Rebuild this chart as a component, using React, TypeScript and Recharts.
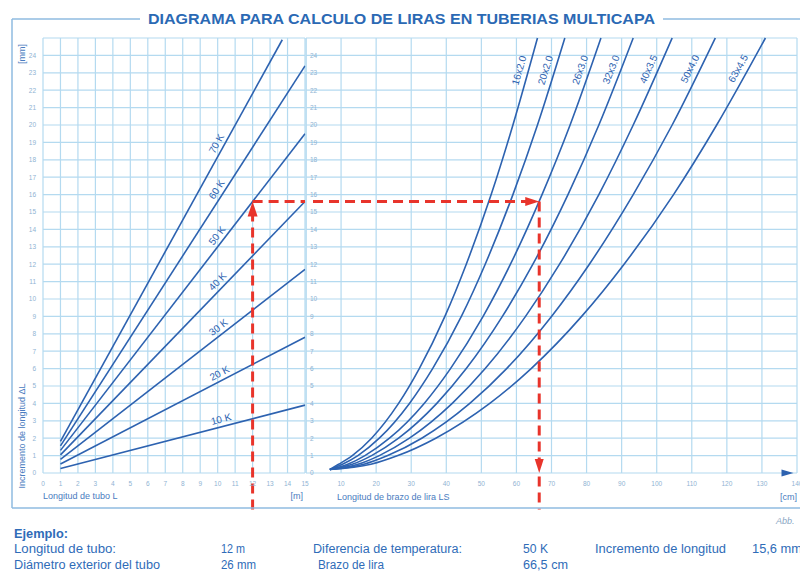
import { LineChart, Line, XAxis, YAxis, CartesianGrid, ReferenceLine, ReferenceDot } from "recharts";

// axis ticks
const tubeLengthTicks = [0, 1, 2, 3, 4, 5, 6, 7, 8, 9, 10, 11, 12, 13, 14, 15];
const lyraArmTicks = [10, 20, 30, 40, 50, 60, 70, 80, 90, 100, 110, 120, 130, 140];
const expansionTicks = [0, 1, 2, 3, 4, 5, 6, 7, 8, 9, 10, 11, 12, 13, 14, 15, 16, 17, 18, 19, 20, 21, 22, 23, 24];

// left panel: expansion vs tube length, per temperature difference
const line10K = [{ L: 1, dl: 0.26 }, { L: 15, dl: 3.9 }];
const line20K = [{ L: 1, dl: 0.52 }, { L: 15, dl: 7.8 }];
const line30K = [{ L: 1, dl: 0.78 }, { L: 15, dl: 11.7 }];
const line40K = [{ L: 1, dl: 1.04 }, { L: 15, dl: 15.6 }];
const line50K = [{ L: 1, dl: 1.3 }, { L: 15, dl: 19.5 }];
const line60K = [{ L: 1, dl: 1.56 }, { L: 15, dl: 23.4 }];
const line70K = [{ L: 1, dl: 1.82 }, { L: 13.7, dl: 24.9 }];

const tempLines = [
  { name: "10 K", data: line10K },
  { name: "20 K", data: line20K },
  { name: "30 K", data: line30K },
  { name: "40 K", data: line40K },
  { name: "50 K", data: line50K },
  { name: "60 K", data: line60K },
  { name: "70 K", data: line70K },
];

// right panel: expansion vs lyra arm length, per pipe size
const pipe16 = [
  { ls: 6.8, dl: 0.2 }, { ls: 9.3, dl: 0.5 }, { ls: 13.2, dl: 1 }, { ls: 18.7, dl: 2 }, { ls: 26.4, dl: 4 },
  { ls: 32.3, dl: 6 }, { ls: 39.6, dl: 9 }, { ls: 45.7, dl: 12 }, { ls: 52.8, dl: 16 }, { ls: 59.0, dl: 20 }, { ls: 66.0, dl: 25 },
];
const pipe20 = [
  { ls: 6.8, dl: 0.2 }, { ls: 10.4, dl: 0.5 }, { ls: 14.8, dl: 1 }, { ls: 20.9, dl: 2 }, { ls: 29.5, dl: 4 },
  { ls: 36.1, dl: 6 }, { ls: 44.3, dl: 9 }, { ls: 51.1, dl: 12 }, { ls: 59.0, dl: 16 }, { ls: 66.0, dl: 20 }, { ls: 73.8, dl: 25 },
];
const pipe26 = [
  { ls: 6.8, dl: 0.2 }, { ls: 11.9, dl: 0.5 }, { ls: 16.8, dl: 1 }, { ls: 23.8, dl: 2 }, { ls: 33.7, dl: 4 },
  { ls: 41.2, dl: 6 }, { ls: 50.5, dl: 9 }, { ls: 58.3, dl: 12 }, { ls: 67.3, dl: 16 }, { ls: 75.3, dl: 20 }, { ls: 84.1, dl: 25 },
];
const pipe32 = [
  { ls: 6.8, dl: 0.2 }, { ls: 13.2, dl: 0.5 }, { ls: 18.7, dl: 1 }, { ls: 26.4, dl: 2 }, { ls: 37.3, dl: 4 },
  { ls: 45.7, dl: 6 }, { ls: 56.0, dl: 9 }, { ls: 64.7, dl: 12 }, { ls: 74.7, dl: 16 }, { ls: 83.5, dl: 20 }, { ls: 93.3, dl: 25 },
];
const pipe40 = [
  { ls: 6.8, dl: 0.2 }, { ls: 14.8, dl: 0.5 }, { ls: 20.9, dl: 1 }, { ls: 29.5, dl: 2 }, { ls: 41.7, dl: 4 },
  { ls: 51.1, dl: 6 }, { ls: 62.6, dl: 9 }, { ls: 72.3, dl: 12 }, { ls: 83.5, dl: 16 }, { ls: 93.3, dl: 20 }, { ls: 104.4, dl: 25 },
];
const pipe50 = [
  { ls: 6.8, dl: 0.2 }, { ls: 16.5, dl: 0.5 }, { ls: 23.3, dl: 1 }, { ls: 33.0, dl: 2 }, { ls: 46.7, dl: 4 },
  { ls: 57.2, dl: 6 }, { ls: 70.0, dl: 9 }, { ls: 80.8, dl: 12 }, { ls: 93.3, dl: 16 }, { ls: 104.4, dl: 20 }, { ls: 116.7, dl: 25 },
];
const pipe63 = [
  { ls: 6.8, dl: 0.2 }, { ls: 18.5, dl: 0.5 }, { ls: 26.2, dl: 1 }, { ls: 37.0, dl: 2 }, { ls: 52.4, dl: 4 },
  { ls: 64.2, dl: 6 }, { ls: 78.6, dl: 9 }, { ls: 90.7, dl: 12 }, { ls: 104.8, dl: 16 }, { ls: 117.1, dl: 20 }, { ls: 131.0, dl: 25 },
];

const pipeCurves = [
  { name: "16x2.0", data: pipe16 },
  { name: "20x2.0", data: pipe20 },
  { name: "26x3.0", data: pipe26 },
  { name: "32x3.0", data: pipe32 },
  { name: "40x3.5", data: pipe40 },
  { name: "50x4.0", data: pipe50 },
  { name: "63x4.5", data: pipe63 },
];

// worked example
const exampleLength = 12;
const exampleExpansion = 15.6;
const exampleArm = 66.5;

const BLUE = "#2d62b0";
const RED = "#e8342b";
const GRID = "#b4daf0";
const TICK = "#8fb3d3";
const TEXT = "#2f6cb8";

const PLOT_TOP = 38;
const PLOT_BOTTOM = 473;
const Y_MAX = 25;
const PX_Y = (PLOT_BOTTOM - PLOT_TOP) / Y_MAX;
const LEFT_X0 = 43;
const LEFT_X1 = 305;
const PX_L = (LEFT_X1 - LEFT_X0) / 15;
const RIGHT_X0 = 307;
const RIGHT_X1 = 797;
const PX_R = (RIGHT_X1 - RIGHT_X0) / 140;

const tickStyle = { fontSize: 6.5, fill: TICK, fontFamily: "Liberation Sans, Arial, sans-serif" };

const rotatedText = (label: string, angle: number, offset: number, size: number) => (props: any) => {
  const a = (angle * Math.PI) / 180;
  const x = props.cx - Math.sin(a) * offset;
  const y = props.cy - Math.cos(a) * offset;
  return (
    <text
      x={x}
      y={y}
      transform={`rotate(${-angle} ${x} ${y})`}
      textAnchor="middle"
      dominantBaseline="central"
      fontSize={size}
      fill={BLUE}
      fontFamily="Liberation Sans, Arial, sans-serif"
    >
      {label}
    </text>
  );
};

const arrow = (dir: "up" | "down" | "right", color: string, len: number, half: number) => (props: any) => {
  const { cx, cy } = props;
  let d = "";
  if (dir === "up") d = `M${cx} ${cy} L${cx - half} ${cy + len} L${cx + half} ${cy + len} Z`;
  if (dir === "down") d = `M${cx} ${cy} L${cx - half} ${cy - len} L${cx + half} ${cy - len} Z`;
  if (dir === "right") d = `M${cx} ${cy} L${cx - len} ${cy - half} L${cx - len} ${cy + half} Z`;
  return <path d={d} fill={color} />;
};

const dashProps = { stroke: RED, strokeWidth: 3, strokeDasharray: "10 6", ifOverflow: "visible" as const };

const T = (p: { x: number; y: number; w?: number; size?: number; bold?: boolean; italic?: boolean; fill?: string; children: string; anchor?: string; rotate?: number }) => (
  <text
    x={p.x}
    y={p.y}
    fontSize={p.size ?? 12.5}
    fontWeight={p.bold ? "bold" : "normal"}
    fontStyle={p.italic ? "italic" : "normal"}
    fill={p.fill ?? TEXT}
    textAnchor={p.anchor ?? "start"}
    textLength={p.w}
    lengthAdjust={p.w ? "spacingAndGlyphs" : undefined}
    transform={p.rotate ? `rotate(${p.rotate} ${p.x} ${p.y})` : undefined}
    fontFamily="Liberation Sans, Arial, sans-serif"
  >
    {p.children}
  </text>
);

export default function App() {
  return (
    <div style={{ position: "absolute", left: 0, top: 0, width: 800, height: 575, background: "#fff", overflow: "hidden" }}>
      <div style={{ position: "absolute", left: 0, top: 0 }}>
        <LineChart width={310} height={510} margin={{ top: PLOT_TOP, right: 310 - LEFT_X1, bottom: 17, left: 0 }}>
          <CartesianGrid stroke={GRID} strokeWidth={1.2} />
          <XAxis
            type="number"
            dataKey="L"
            domain={[0, 15]}
            ticks={tubeLengthTicks}
            interval={0}
            height={20}
            tickSize={0}
            tickMargin={8}
            axisLine={false}
            tick={tickStyle}
            allowDuplicatedCategory={false}
          />
          <YAxis
            type="number"
            domain={[0, Y_MAX]}
            ticks={expansionTicks}
            interval={0}
            width={LEFT_X0}
            tickSize={0}
            tickMargin={7}
            axisLine={false}
            tick={tickStyle}
          />
          {tempLines.map((s) => (
            <Line
              key={s.name}
              data={s.data}
              dataKey="dl"
              type="linear"
              stroke={BLUE}
              strokeWidth={1.6}
              dot={false}
              activeDot={false}
              isAnimationActive={false}
            />
          ))}
          {tempLines.map((s) => {
            const [p0, p1] = s.data;
            const slope = (p1.dl - p0.dl) / (p1.L - p0.L);
            const lx = 10.3;
            const ly = p0.dl + slope * (lx - p0.L);
            const angle = (Math.atan((slope * PX_Y) / PX_L) * 180) / Math.PI;
            return (
              <ReferenceDot key={"lab" + s.name} x={lx} y={ly} r={0} shape={rotatedText(s.name, angle, 7.5, 10)} />
            );
          })}
          <ReferenceLine segment={[{ x: exampleLength, y: -2.1 }, { x: exampleLength, y: exampleExpansion - 0.8 }]} {...dashProps} />
          <ReferenceLine segment={[{ x: exampleLength, y: exampleExpansion }, { x: 15, y: exampleExpansion }]} {...dashProps} />
          <ReferenceDot x={exampleLength} y={exampleExpansion} r={0} shape={arrow("up", RED, 15, 5)} />
        </LineChart>
      </div>

      <div style={{ position: "absolute", left: RIGHT_X0 - 1, top: 0 }}>
        <LineChart width={494} height={510} margin={{ top: PLOT_TOP, right: 494 - 1 - (RIGHT_X1 - RIGHT_X0), bottom: 17, left: 0 }}>
          <CartesianGrid stroke={GRID} strokeWidth={1.2} />
          <XAxis
            type="number"
            dataKey="ls"
            domain={[0, 140]}
            ticks={lyraArmTicks}
            interval={0}
            height={20}
            tickSize={0}
            tickMargin={8}
            axisLine={false}
            tick={tickStyle}
            allowDuplicatedCategory={false}
          />
          <YAxis
            type="number"
            domain={[0, Y_MAX]}
            ticks={expansionTicks}
            interval={0}
            width={1}
            mirror
            tickSize={0}
            tickMargin={4}
            axisLine={false}
            tick={tickStyle}
          />
          {pipeCurves.map((s) => (
            <Line
              key={s.name}
              data={s.data}
              dataKey="dl"
              type="monotone"
              stroke={BLUE}
              strokeWidth={1.6}
              dot={false}
              activeDot={false}
              isAnimationActive={false}
            />
          ))}
          {pipeCurves.map((s) => {
            const p0 = s.data[s.data.length - 2];
            const p1 = s.data[s.data.length - 1];
            const ly = 23;
            const lx = p0.ls + ((ly - p0.dl) / (p1.dl - p0.dl)) * (p1.ls - p0.ls);
            const slope = (p1.dl - p0.dl) / (p1.ls - p0.ls);
            const angle = (Math.atan((slope * PX_Y) / PX_R) * 180) / Math.PI;
            return (
              <ReferenceDot key={"lab" + s.name} x={lx} y={ly} r={0} shape={rotatedText(s.name, angle, 9, 10)} />
            );
          })}
          <ReferenceLine segment={[{ x: 2, y: exampleExpansion }, { x: exampleArm - 3, y: exampleExpansion }]} {...dashProps} />
          <ReferenceDot x={exampleArm} y={exampleExpansion} r={0} shape={arrow("right", RED, 14, 4.5)} />
          <ReferenceLine segment={[{ x: exampleArm, y: exampleExpansion }, { x: exampleArm, y: 0.8 }]} {...dashProps} />
          <ReferenceLine segment={[{ x: exampleArm, y: -0.2 }, { x: exampleArm, y: -2.1 }]} {...dashProps} />
          <ReferenceDot x={exampleArm} y={0} r={0} shape={arrow("down", RED, 14, 4.5)} />
          <ReferenceDot x={139} y={0} r={0} shape={arrow("right", BLUE, 12, 3.5)} />
        </LineChart>
      </div>

      <svg width={800} height={575} style={{ position: "absolute", left: 0, top: 0, pointerEvents: "none" }}>
        <line x1={12} y1={19} x2={140} y2={19} stroke="#8fbbe0" strokeWidth={1.5} />
        <line x1={663} y1={19} x2={800} y2={19} stroke="#8fbbe0" strokeWidth={1.5} />
        <line x1={12} y1={19} x2={12} y2={508} stroke="#8fbbe0" strokeWidth={1.5} />
        <line x1={12} y1={508} x2={800} y2={508} stroke="#8fbbe0" strokeWidth={1.5} />
        <line x1={306} y1={PLOT_TOP} x2={306} y2={PLOT_BOTTOM} stroke={GRID} strokeWidth={1.2} />
        <T x={148} y={24} w={507} size={15} bold fill="#2b69b4">DIAGRAMA PARA CALCULO DE LIRAS EN TUBERIAS MULTICAPA</T>

        <T x={25} y={436} size={9} anchor="middle" rotate={-90} fill="#4a7cc0">Incremento de longitud ΔL</T>
        <T x={25} y={54} size={9} anchor="middle" rotate={-90} fill="#4a7cc0">[mm]</T>
        <T x={43} y={499} size={9} fill="#4a7cc0">Longitud de tubo L</T>
        <T x={303} y={499} size={9} anchor="end" fill="#4a7cc0">[m]</T>
        <T x={337} y={500} size={9} fill="#4a7cc0">Longitud de brazo de lira LS</T>
        <T x={797} y={500} size={9} anchor="end" fill="#4a7cc0">[cm]</T>
        <T x={776} y={524} size={9} italic fill="#8aa6c4">Abb.</T>

        <T x={14} y={538} w={54} bold>Ejemplo:</T>
        <T x={14} y={553} w={102}>Longitud de tubo:</T>
        <T x={221} y={553} w={24}>12 m</T>
        <T x={313} y={553} w={149}>Diferencia de temperatura:</T>
        <T x={523} y={553} w={25}>50 K</T>
        <T x={595} y={553} w={131}>Incremento de longitud</T>
        <T x={752} y={553} w={50}>15,6 mm</T>
        <T x={14} y={569} w={146}>Diámetro exterior del tubo</T>
        <T x={221} y={569} w={35}>26 mm</T>
        <T x={318} y={569} w={66}>Brazo de lira</T>
        <T x={523} y={569} w={45}>66,5 cm</T>
      </svg>
    </div>
  );
}
